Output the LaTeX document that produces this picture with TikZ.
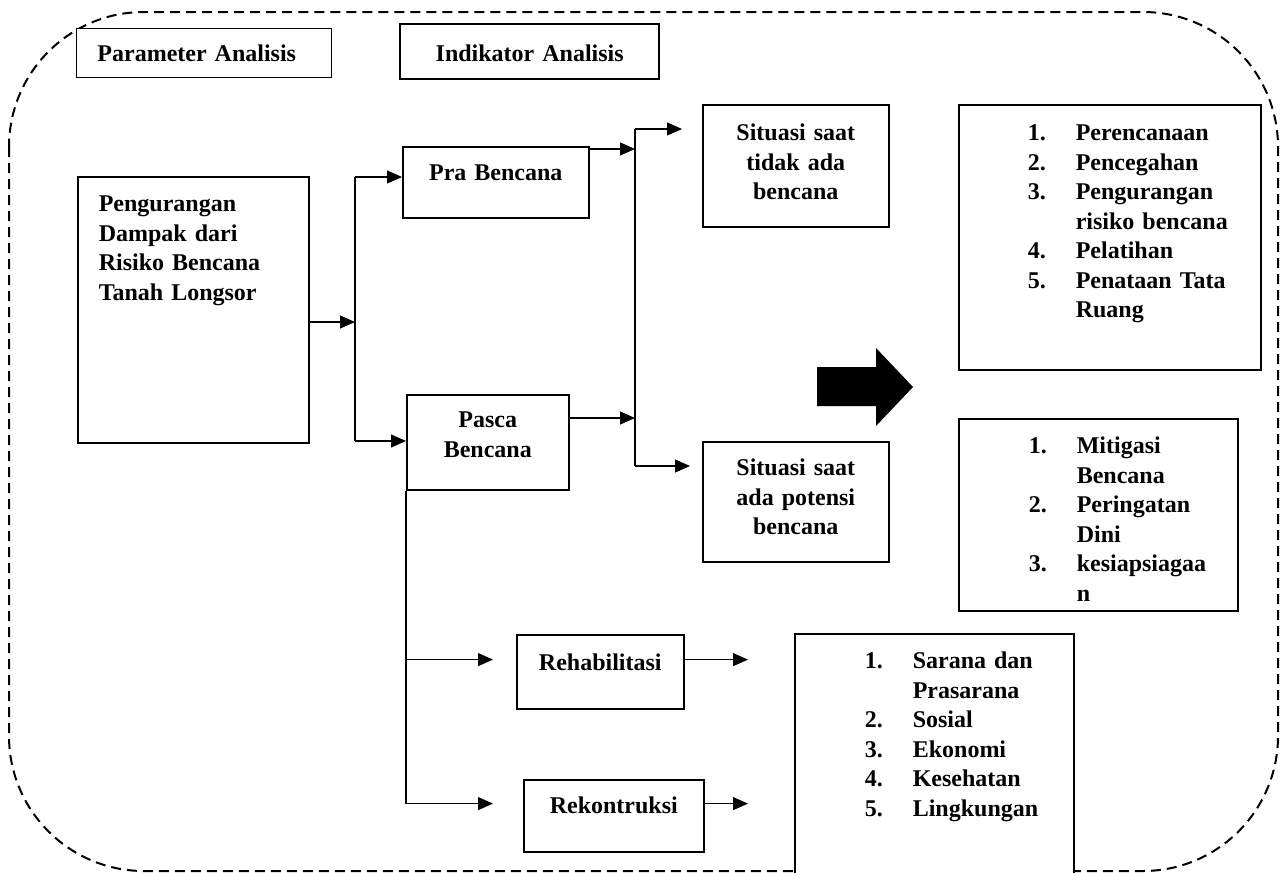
\documentclass[tikz,border=0pt]{standalone}
\usepackage{fontspec}
\setmainfont{Liberation Serif}
\usetikzlibrary{arrows.meta}

\begin{document}
\begin{tikzpicture}[x=1pt,y=-1pt,
  every node/.style={font=\bfseries\fontsize{24}{29.5}\selectfont},
  box/.style={draw,fill=white,line width=1.6pt,inner xsep=0pt,inner ysep=0pt,
    anchor=north west,align=center},
  lst/.style={box,align=left},
  link/.style={line width=1.2pt},
  arr/.style={link,-{Triangle[length=15pt,width=13pt]}}]

  \useasboundingbox (0,0) rectangle (1283,873);

  % Frame

  \draw [dash pattern=on 10pt off 6pt,line width=2pt,rounded corners=135pt]
    (9,12) rectangle (1278,871);

  % Headers

  \node [box,line width=0.9pt,align=left,inner xsep=21pt,text width=213pt,
    text height=33pt,text depth=16pt] (param) at (76,28) {Parameter Analisis};
  \node [box,line width=2.4pt,text width=259pt,text height=37pt,text depth=18pt]
    (indik) at (399,23) {Indikator Analisis};

  % Parameter

  \node [box,align=left,inner xsep=21pt,text width=189pt,text height=35pt,
    text depth=231pt] (peng) at (77,176)
    {Pengurangan\\Dampak dari\\Risiko Bencana\\Tanah Longsor};
  \node [box,text width=186pt,text height=34pt,text depth=37pt]
    (pra) at (402,146) {Pra Bencana};
  \node [box,text width=162pt,text height=33pt,text depth=62pt]
    (pasca) at (406,394) {Pasca\\Bencana};
  \node [box,text width=167pt,text height=36pt,text depth=38pt]
    (rehab) at (516,634) {Rehabilitasi};
  \node [box,text width=180pt,text height=34pt,text depth=38pt]
    (rekon) at (523,779) {Rekontruksi};

  % Indikator

  \node [box,text width=186pt,text height=36pt,text depth=86pt]
    (sit1) at (702,104) {Situasi saat\\tidak ada\\bencana};
  \node [box,text width=186pt,text height=34pt,text depth=86pt]
    (sit2) at (702,441) {Situasi saat\\ada potensi\\bencana};

  \node [lst,text width=302pt,text height=36pt,text depth=229pt] (list1) at (958,104)
    {\begin{tabular}[t]{@{\hspace{69pt}}p{48pt}@{}l@{}}
      1. & Perencanaan\\
      2. & Pencegahan\\
      3. & Pengurangan\\
         & risiko bencana\\
      4. & Pelatihan\\
      5. & Penataan Tata\\
         & Ruang
    \end{tabular}};
  \node [lst,text width=279pt,text height=35pt,text depth=157pt] (list2) at (958,418)
    {\begin{tabular}[t]{@{\hspace{70pt}}p{48pt}@{}l@{}}
      1. & Mitigasi\\
         & Bencana\\
      2. & Peringatan\\
         & Dini\\
      3. & kesiapsiagaa\\
         & n
    \end{tabular}};
  \node [lst,text width=279pt,text height=35pt,text depth=217pt] (list3) at (794,633)
    {\begin{tabular}[t]{@{\hspace{70pt}}p{48pt}@{}l@{}}
      1. & Sarana dan\\
         & Prasarana\\
      2. & Sosial\\
      3. & Ekonomi\\
      4. & Kesehatan\\
      5. & Lingkungan
    \end{tabular}};

  \fill (817,367) -- (876,367) -- (876,348) -- (913,387) -- (876,426)
    -- (876,406) -- (817,406) -- cycle;

  % Links

  \coordinate (p1) at (355,322);
  \coordinate (p2) at (355,177);
  \coordinate (p3) at (355,441);
  \draw [arr] (peng.east |- p1) -- (p1);
  \draw [link] (p2) -- (p3);
  \draw [arr] (p2) -- (p2 -| pra.west);
  \draw [arr] (p3) -- (p3 -| pasca.west);

  \coordinate (q1) at (635,149);
  \coordinate (q2) at (635,418);
  \coordinate (q3) at (635,129);
  \coordinate (q4) at (635,466);
  \draw [arr] (pra.east |- q1) -- (q1);
  \draw [arr] (pasca.east |- q2) -- (q2);
  \draw [link] (q3) -- (q4);
  \draw [arr,shorten >=20pt] (q3) -- (q3 -| sit1.west);
  \draw [arr,shorten >=12pt] (q4) -- (q4 -| sit2.west);

  \path (pasca.south west) ++(0,169) coordinate (r1) ++(0,144) coordinate (r2);
  \draw [link] (pasca.south west) -- (r2);
  \draw [arr,shorten >=23pt] (r1) -- (r1 -| rehab.west);
  \draw [arr,shorten >=30pt] (r2) -- (r2 -| rekon.west);
  \draw [arr,shorten >=46pt] (rehab.east |- r1) -- (r1 -| list3.west);
  \draw [arr,shorten >=46pt] (rekon.east |- r2) -- (r2 -| list3.west);
\end{tikzpicture}
\end{document}
